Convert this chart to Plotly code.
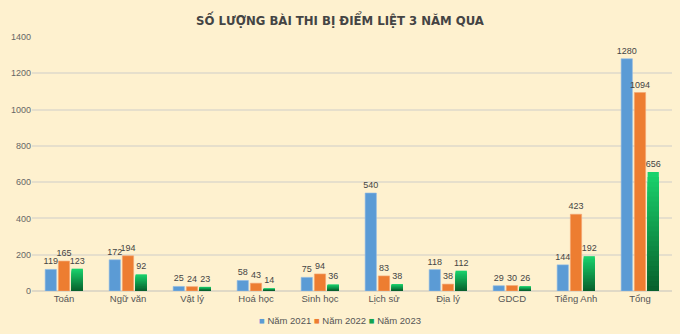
import plotly.graph_objects as go

categories = ["Toán", "Ngữ văn", "Vật lý", "Hoá học", "Sinh học", "Lịch sử", "Địa lý", "GDCD", "Tiếng Anh", "Tổng"]
v2021 = [119, 172, 25, 58, 75, 540, 118, 29, 144, 1280]
v2022 = [165, 194, 24, 43, 94, 83, 38, 30, 423, 1094]
v2023 = [123, 92, 23, 14, 36, 38, 112, 26, 192, 656]
years = ["Năm 2021", "Năm 2022", "Năm 2023"]
colors = ["#5b9bd5", "#ed7d31", "#13a350"]

FONT = "Liberation Sans"
TF = dict(size=9, color="#444", family=FONT)
fig = go.Figure()
fig.add_trace(go.Bar(x=categories, y=v2021, name=years[0], offsetgroup="a",
                     marker=dict(color=colors[0], line=dict(color="#8fbbe6", width=0.6)),
                     text=v2021, textposition="outside", cliponaxis=False,
                     constraintext="none", textfont=TF))
fig.add_trace(go.Bar(x=categories, y=v2022, name=years[1], offsetgroup="b",
                     marker=dict(color=colors[1], line=dict(color="#f4a472", width=0.6)),
                     text=v2022, textposition="outside", cliponaxis=False,
                     constraintext="none", textfont=TF))

# green bars with vertical gradient (bright at top, dark at bottom):
# overlaid bars of decreasing height and darkening colour
N = 24
top = (0x1a, 0xd2, 0x6c)
bot = (0x07, 0x5c, 0x2a)
for k in range(N):
    t = 1 - k / N
    c = tuple(int(round(bot[i] + (top[i] - bot[i]) * t)) for i in range(3))
    col = "#%02x%02x%02x" % c
    first = k == 0
    fig.add_trace(go.Bar(
        x=categories, y=[v * (N - k) / N for v in v2023],
        name=years[2], offsetgroup="c",
        marker=dict(color=col, line=dict(width=0)),
        text=v2023 if first else None, textposition="outside" if first else "none",
        cliponaxis=False, constraintext="none", textfont=TF,
        hovertext=v2023, hoverinfo="x+text"))

# compact legend as a single text line
legend_text = "&nbsp;".join(
    f"<span style='color:{c}'>■</span>&nbsp;{y}" for c, y in zip(colors, years))
fig.add_annotation(text=legend_text, xref="paper", yref="paper", x=0.481, y=-0.118,
                   xanchor="center", yanchor="middle", showarrow=False,
                   font=dict(size=9.5, color="#555", family=FONT))

fig.update_layout(
    width=680, height=334,
    paper_bgcolor="#fef1cf", plot_bgcolor="#fef1cf",
    margin=dict(l=32, r=8, t=37, b=43),
    barmode="group", bargap=0.38, bargroupgap=0.15,
    showlegend=False,
    title=dict(text="<b>SỐ LƯỢNG BÀI THI BỊ ĐIỂM LIỆT 3 NĂM QUA</b>", x=0.5, xanchor="center",
               y=0.94, yanchor="middle",
               font=dict(family="DejaVu Sans Condensed, Liberation Sans", size=13, color="#444")),
    font=dict(family=FONT, size=9, color="#555"),
    xaxis=dict(showgrid=False, ticks="", tickfont=dict(size=9.5, color="#555")),
    yaxis=dict(range=[0, 1400], dtick=200, gridcolor="#e6dfcc", gridwidth=1.5,
               zeroline=True, zerolinecolor="#e0d9c6", zerolinewidth=1.5,
               tickfont=dict(size=9, color="#666"), ticks="", ticklen=0),
)
fig.write_html("out.html")
